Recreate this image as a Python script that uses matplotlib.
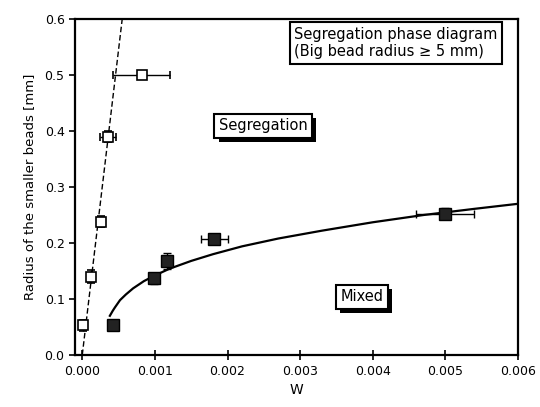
import matplotlib
matplotlib.use('Agg')
from matplotlib import pyplot as plt
import matplotlib.patheffects as pe

# segregation boundary (open squares)
segX = [0.00001, 0.00012, 0.00026, 0.00036, 0.00082]
segY = [0.053, 0.140, 0.238, 0.390, 0.500]
segXerr = [0.0, 0.0, 0.0, 0.00011, 0.00039]
segYerr = [0.010, 0.012, 0.010, 0.010, 0.008]

# mixed boundary (filled squares)
mixX = [0.00043, 0.00099, 0.00117, 0.00182, 0.00500]
mixY = [0.053, 0.137, 0.168, 0.207, 0.252]
mixXerr = [0.0, 0.00005, 0.00005, 0.00019, 0.00040]
mixYerr = [0.008, 0.010, 0.014, 0.008, 0.010]

# dashed fit line
lineX = [0.0, 0.00055]
lineY = [0.0, 0.60]

# solid fit curve
curveX = [0.00038, 0.00042, 0.00045, 0.00052, 0.0006, 0.0007, 0.00085, 0.001,
          0.0012, 0.0015, 0.0018, 0.0022, 0.0027, 0.0033, 0.004, 0.0047, 0.0054, 0.006]
curveY = [0.070, 0.079, 0.085, 0.098, 0.108, 0.119, 0.132, 0.142,
          0.154, 0.168, 0.180, 0.194, 0.208, 0.222, 0.237, 0.250, 0.261, 0.270]

xticks = [0.000, 0.001, 0.002, 0.003, 0.004, 0.005, 0.006]
yticks = [0.0, 0.1, 0.2, 0.3, 0.4, 0.5, 0.6]

fig = plt.figure(figsize=(5.4, 4.07), dpi=100)
ax = fig.add_axes([0.1389, 0.1278, 0.8204, 0.8255])

ax.plot(lineX, lineY, color='k', lw=1.0, ls=(0, (4, 2)))
ax.plot(curveX, curveY, color='k', lw=1.6)

ax.errorbar(segX, segY, xerr=segXerr, yerr=segYerr, fmt='s', ms=7,
            mfc='white', mec='k', mew=1.2, ecolor='k', elinewidth=1.0,
            capsize=3, zorder=3)
ax.errorbar(mixX, mixY, xerr=mixXerr, yerr=mixYerr, fmt='s', ms=8,
            mfc='#222222', mec='k', mew=1.0, ecolor='k', elinewidth=1.0,
            capsize=3, zorder=3)

ax.set_xlim(-0.0001, 0.006)
ax.set_ylim(0.0, 0.6)
ax.set_xticks(xticks)
ax.set_xticklabels(['%.3f' % v for v in xticks])
ax.set_yticks(yticks)
ax.set_yticklabels(['%.1f' % v for v in yticks])
ax.tick_params(axis='x', direction='inout', length=7, width=1.2, labelsize=9)
ax.tick_params(axis='y', direction='out', length=4, width=1.2, labelsize=9)
for s in ax.spines.values():
    s.set_linewidth(1.6)

ax.set_xlabel('W', fontsize=10, labelpad=4)
ax.set_ylabel('Radius of the smaller beads [mm]', fontsize=9.5, labelpad=6)

# info box
ax.text(0.00292, 0.586, 'Segregation phase diagram\n(Big bead radius \u2265 5 mm)',
        fontsize=10.5, ha='left', va='top', linespacing=1.2,
        bbox=dict(boxstyle='square,pad=0.3', fc='white', ec='k', lw=1.5))

shadow = [pe.SimplePatchShadow(offset=(3, -3), shadow_rgbFace='k', alpha=1.0), pe.Normal()]
t1 = ax.text(0.00249, 0.409, 'Segregation', fontsize=10.5, ha='center', va='center',
             bbox=dict(boxstyle='square,pad=0.3', fc='white', ec='k', lw=1.5))
t1.get_bbox_patch().set_path_effects(shadow)
t2 = ax.text(0.00385, 0.104, 'Mixed', fontsize=10.5, ha='center', va='center',
             bbox=dict(boxstyle='square,pad=0.3', fc='white', ec='k', lw=1.5))
t2.get_bbox_patch().set_path_effects(shadow)

fig.savefig('out.png', dpi=100)
